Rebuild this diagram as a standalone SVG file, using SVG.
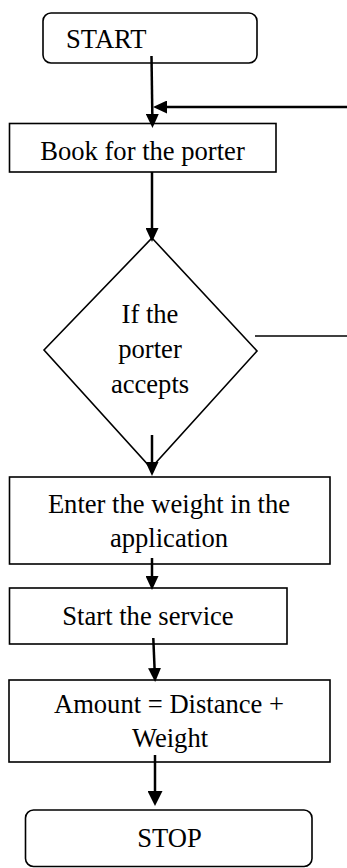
<svg xmlns="http://www.w3.org/2000/svg" width="347" height="868" viewBox="0 0 347 868">
  <defs>
    <marker id="arrow" markerUnits="userSpaceOnUse" markerWidth="14" markerHeight="13" refX="6" refY="6.5" orient="auto">
      <path d="M0,0 L14,6.5 L0,13 z" fill="#000"/>
    </marker>
    <marker id="arrowLg" markerUnits="userSpaceOnUse" markerWidth="15" markerHeight="15" refX="6" refY="7.5" orient="auto">
      <path d="M0,0 L15,7.5 L0,15 z" fill="#000"/>
    </marker>
  </defs>
  <style>
    .box { fill: #fff; stroke: #000; stroke-width: 1.6; }
    .lbl { font-family: "Liberation Serif", "Times New Roman", serif; font-size: 26.6px; fill: #000; }
    .mid { text-anchor: middle; }
    .wire { stroke: #000; stroke-width: 2.5; fill: none; }
    .thin { stroke: #000; stroke-width: 1.6; fill: none; }
  </style>

  <g id="start">
    <rect class="box" x="43" y="13" width="214" height="50" rx="8"/>
    <text class="lbl" x="66" y="48">START</text>
  </g>

  <g id="book">
    <rect class="box" x="9.5" y="123.5" width="266.5" height="48.5"/>
    <text class="lbl mid" x="142.5" y="160">Book for the porter</text>
  </g>

  <g id="decision">
    <polygon class="box" points="152,238 257,351 151,468 44,350"/>
    <text class="lbl mid" x="150" y="323">If the</text>
    <text class="lbl mid" x="150" y="358">porter</text>
    <text class="lbl mid" x="150" y="393">accepts</text>
  </g>

  <g id="weight">
    <rect class="box" x="9.5" y="477" width="320.5" height="87"/>
    <text class="lbl mid" x="169" y="513">Enter the weight in the</text>
    <text class="lbl mid" x="169" y="547">application</text>
  </g>

  <g id="service">
    <rect class="box" x="9.5" y="588" width="277.5" height="56"/>
    <text class="lbl mid" x="148" y="625">Start the service</text>
  </g>

  <g id="amount">
    <rect class="box" x="9" y="680" width="321" height="82"/>
    <text class="lbl mid" x="169" y="713">Amount = Distance +</text>
    <text class="lbl mid" x="170" y="747">Weight</text>
  </g>

  <g id="stop">
    <rect class="box" x="25.5" y="810" width="286.5" height="56.5" rx="8"/>
    <text class="lbl mid" x="169.5" y="847">STOP</text>
  </g>

  <g id="connectors">
    <line class="wire" x1="151.5" y1="56" x2="152.4" y2="120" marker-end="url(#arrow)"/>
    <line class="wire" x1="347" y1="107" x2="161" y2="107" marker-end="url(#arrow)"/>
    <line class="wire" x1="152" y1="172" x2="152" y2="234" marker-end="url(#arrow)"/>
    <line class="wire" x1="152" y1="435" x2="152" y2="468" marker-end="url(#arrow)"/>
    <line class="thin" x1="255" y1="336" x2="347" y2="336"/>
    <line class="wire" x1="152" y1="558" x2="152" y2="582" marker-end="url(#arrow)"/>
    <line class="wire" x1="153.3" y1="638" x2="154.8" y2="674" marker-end="url(#arrow)"/>
    <line class="wire" x1="155" y1="755" x2="155" y2="797" marker-end="url(#arrowLg)"/>
  </g>
</svg>
